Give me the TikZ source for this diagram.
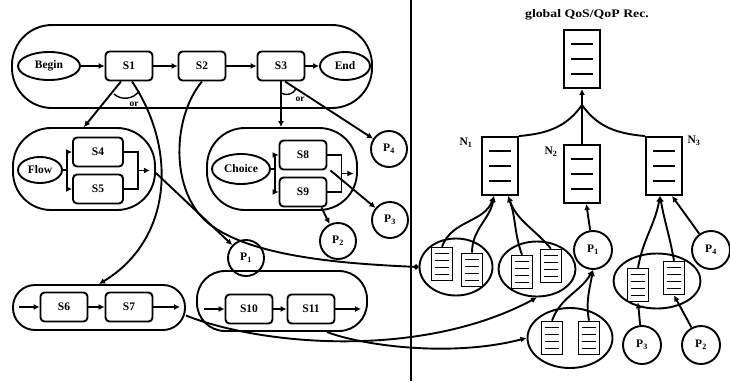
\documentclass[tikz,border=0pt]{standalone}
\usepackage{fontspec}
\setmainfont{Liberation Serif}
\usetikzlibrary{calc,shapes.geometric,arrows.meta}

\begin{document}
\begin{tikzpicture}[x=1pt, y=-1pt, line width=1.9pt, >={Latex[length=6pt,width=6pt]},
    every node/.style={font=\fontsize{11.5}{13}\selectfont\bfseries},
    stepbox/.style={draw, rounded corners=4pt, minimum width=47pt, minimum height=29pt, inner sep=0pt},
    oval/.style={draw, ellipse, minimum height=28pt, inner sep=1pt},
    place/.style={draw, circle, minimum size=36pt, inner sep=0pt},
    doc/.style={draw, minimum width=36pt, minimum height=58pt},
    minidoc/.style={draw, line width=1.6pt, minimum width=21pt, minimum height=33pt},
    cloud/.style={draw, ellipse, inner sep=0pt},
    orlabel/.style={font=\fontsize{9.5}{10}\selectfont\bfseries, inner sep=1pt}]
  \useasboundingbox (0,0) rectangle (730,381);
  % main sequence
  \node[draw, rounded corners=40pt, minimum width=360pt, minimum height=83pt] (seq) at (192,66.5) {};
  \node[oval, minimum width=62pt] (Begin) at (49,66) {Begin};
  \node[stepbox] (S1) at (129,66) {S1};
  \node[stepbox] (S2) at (202,66) {S2};
  \node[stepbox] (S3) at (281,66) {S3};
  \node[oval, minimum width=50pt] (End) at (345,66) {End};
  \draw[->] (Begin) -- (S1);
  \draw[->] (S1) -- (S2);
  \draw[->] (S2) -- (S3);
  \draw[->] (S3) -- (End);

  % flow block
  \node[draw, rounded corners=38pt, minimum width=142pt, minimum height=82pt] (flow) at (84,169) {};
  \node[oval, minimum width=44pt, minimum height=26pt] (flowl) at (40,170) {Flow};
  \node[stepbox, minimum width=50pt] (S4) at (98,152) {S4};
  \node[stepbox, minimum width=50pt] (S5) at (98,189) {S5};
  \draw[->] (flowl.east) -- ++(4,0) |- (S4.west);
  \draw[->] (flowl.east) -- ++(4,0) |- (S5.west);
  \draw (S4.east) -- ++(14,0) |- (S5.east);
  \draw[->] ($(S4.east)!0.5!(S5.east)+(14,0)$) -- ++(12,0);

  % choice block
  \node[draw, rounded corners=38pt, minimum width=150pt, minimum height=82pt] (choice) at (282,169) {};
  \node[oval, minimum width=58pt, minimum height=30pt] (choicel) at (241,169) {Choice};
  \node[stepbox] (S8) at (303,155) {S8};
  \node[stepbox] (S9) at (303,192) {S9};
  \draw[->] (choicel.east) -- ++(4,0) |- (S8.west);
  \draw[->] (choicel.east) -- ++(4,0) |- (S9.west);
  \draw (S8.east) -- ++(14,0) |- (S9.east);
  \draw[->] ($(S8.east)!0.5!(S9.east)+(14,0)$) -- ++(12,0);

  % lower sequences
  \node[draw, rounded corners=22pt, minimum width=172pt, minimum height=45pt] (row1) at (99,307.5) {};
  \node[stepbox] (S6) at (64,307) {S6};
  \node[stepbox] (S7) at (129,307) {S7};
  \coordinate (in1) at (19,307);
  \coordinate (out1) at (180,307);
  \draw[->] (in1) -- (S6);
  \draw[->] (S6) -- (S7);
  \draw[->] (S7) -- (out1);
  \node[draw, rounded corners=28pt, minimum width=170pt, minimum height=60pt] (row2) at (282,301) {};
  \node[stepbox] (S10) at (249,309) {S10};
  \node[stepbox] (S11) at (311,309) {S11};
  \coordinate (in2) at (204,309);
  \coordinate (out2) at (361,309);
  \draw[->] (in2) -- (S10);
  \draw[->] (S10) -- (S11);
  \draw[->] (S11) -- (out2);

  % parties on the process side
  \node[place] (pL1) at (246,258) {P\textsubscript{1}};
  \node[place] (pL2) at (338,241) {P\textsubscript{2}};
  \node[place] (pL3) at (390,220) {P\textsubscript{3}};
  \node[place] (pL4) at (389,149) {P\textsubscript{4}};

  % branches
  \draw[->] ([xshift=-8pt]S1.south) -- (flow.north);
  \draw[->] ([xshift=3pt]S1.south) .. controls (178,150) and (172,240) .. (row1.north);
  \draw[line width=1.4pt] (114,94) to[bend right=50] (139,91);
  \node[orlabel] (or1) at (134,104) {or};
  \draw[->] (S3.south) -- (S3.south |- choice.north);
  \draw[->] ([xshift=4pt]S3.south) -- (pL4);
  \draw[line width=1.4pt] (281,93) to[bend right=45] (296,89);
  \node[orlabel] (or2) at (300,99) {or};
  \draw[->] ([yshift=-4pt]flow.east) -- (pL1);
  \draw[->] ([xshift=3pt]S8.south east) -- (pL3);
  \draw[->] ([xshift=-6pt]S9.south east) -- (pL2);

  % divider
  \draw (411,0) -- (411,381);

  % recommendation side
  \node (title) at (587,15) {\scalebox{1.2}[1]{global QoS/QoP Rec.}};
  \foreach \n/\x/\y in {rec/582/59, N1/500/166, N2/582/174, N3/664/166} {
    \node[doc] (\n) at (\x,\y) {};
    \foreach \k in {0.25,0.5,0.75}
      \draw ($(\n.north west)!\k!(\n.south west)+(8,0)$) -- ($(\n.north east)!\k!(\n.south east)+(-8,0)$);
  }
  \node (n1) at (466,143) {N\textsubscript{1}};
  \node (n2) at (551,152) {N\textsubscript{2}};
  \node (n3) at (694,141) {N\textsubscript{3}};
  \coordinate (J) at (582,105);
  \draw[->] (J) -- (rec);
  \draw (J) to[out=-125, in=5] (N1.north east);
  \draw (J) -- (N2);
  \draw (J) to[out=-55, in=175] (N3.north west);

  \node[cloud, minimum width=73pt, minimum height=57pt] (grpA) at (456,267) {};
  \node[cloud, minimum width=77pt, minimum height=55pt] (grpB) at (537,269) {};
  \node[cloud, minimum width=85pt, minimum height=60pt] (grpC) at (570,338) {};
  \node[cloud, minimum width=87pt, minimum height=55pt] (grpD) at (657,281) {};
  \foreach \n/\x/\y in {a1/442/264, a2/472/270, b1/522/272, b2/551/266, c1/552/338, c2/589/338, d1/638/285, d2/674/278} {
    \node[minidoc] (\n) at (\x,\y) {};
    \foreach \k in {0.2,0.4,0.6,0.8}
      \draw[line width=1.4pt] ($(\n.north west)!\k!(\n.south west)+(4,0)$) -- ($(\n.north east)!\k!(\n.south east)+(-4,0)$);
  }
  \node[place, minimum size=38pt] (pR1) at (593,250) {P\textsubscript{1}};
  \node[place, minimum size=38pt] (pR4) at (711,250) {P\textsubscript{4}};
  \node[place, minimum size=38pt] (pR3) at (642,345) {P\textsubscript{3}};
  \node[place, minimum size=38pt] (pR2) at (701,345) {P\textsubscript{2}};

  \draw[->] (a1.north) to[out=70, in=-110] ([xshift=-6pt]N1.south);
  \draw[->] (a2.north) to[out=90, in=-100] ([xshift=-6pt]N1.south);
  \draw[->] (b1.north) to[out=110, in=-70] ([xshift=8pt]N1.south);
  \draw[->] (b2.north) to[out=130, in=-70] ([xshift=8pt]N1.south);
  \draw[->] (pR1) -- (N2);
  \draw[->] (c1.north) to[out=70, in=-120] (pR1.south);
  \draw[->] (c2.north) to[out=100, in=-100] (pR1.south);
  \draw[->] (d1.north) to[out=80, in=-100] ([xshift=-4pt]N3.south);
  \draw[->] (d2.north) to[out=100, in=-80] ([xshift=-4pt]N3.south);
  \draw[->] (pR4) -- ([xshift=8pt]N3.south);
  \draw[->] (pR3) -- (d1.south);
  \draw[->] (pR2) -- (d2.south);

  % crossing links
  \draw[-{Circle[length=5pt]}] (S2.south) .. controls (170,120) and (170,200) .. (215,228) .. controls (260,258) and (350,264) .. (grpA.west);
  \draw[->] ([yshift=-8pt]row1.east) .. controls (260,345) and (420,360) .. (grpB.south);
  \draw[->] ([xshift=45pt]row2.south) .. controls (360,345) and (450,358) .. (grpC.west);
\end{tikzpicture}
\end{document}
